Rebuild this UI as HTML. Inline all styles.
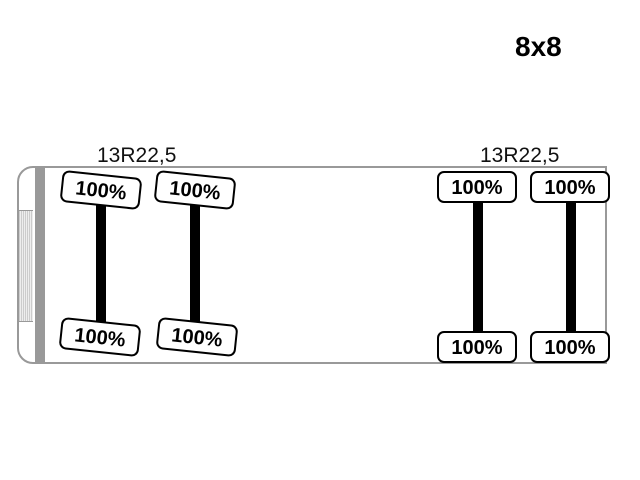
<!DOCTYPE html>
<html><head><style>
body{margin:0;width:640px;height:480px;background:#fff;position:relative;overflow:hidden;font-family:"Liberation Sans",sans-serif}
.a{position:absolute}
.b{position:absolute;width:76px;height:28px;border:2px solid #000;border-radius:7px;background:#fff;font-weight:bold;font-size:20px;line-height:30px;text-align:center;box-sizing:content-box}
.ax{position:absolute;background:#000;width:10px}
.t{position:absolute;font-size:21px;color:#111}
</style></head><body>
<div class="a" style="left:515px;top:31px;font-weight:bold;font-size:28px">8x8</div>
<div class="t" style="left:97px;top:144px">13R22,5</div>
<div class="t" style="left:480px;top:144px">13R22,5</div>
<div class="a" style="left:17px;top:166px;width:590px;height:198px;border:2px solid #999;border-radius:16px 0 0 16px;box-sizing:border-box"></div>
<div class="a" style="left:35px;top:167px;width:10px;height:196px;background:#999"></div>
<div class="a" style="left:19px;top:210px;width:14px;height:110px;background:repeating-linear-gradient(90deg,#ccc 0 1px,#eee 1px 2px);border-top:1px solid #999;border-bottom:1px solid #999"></div>
<div class="ax" style="left:96px;top:205px;height:122px"></div>
<div class="ax" style="left:190px;top:205px;height:122px"></div>
<div class="ax" style="left:473px;top:201px;height:130px"></div>
<div class="ax" style="left:566px;top:201px;height:130px"></div>
<div class="b" style="left:61px;top:174px;transform:rotate(6deg)">100%</div>
<div class="b" style="left:155px;top:174px;transform:rotate(6deg)">100%</div>
<div class="b" style="left:60px;top:321px;transform:rotate(6deg)">100%</div>
<div class="b" style="left:157px;top:321px;transform:rotate(6deg)">100%</div>
<div class="b" style="left:437px;top:171px">100%</div>
<div class="b" style="left:530px;top:171px">100%</div>
<div class="b" style="left:437px;top:331px">100%</div>
<div class="b" style="left:530px;top:331px">100%</div>
</body></html>
